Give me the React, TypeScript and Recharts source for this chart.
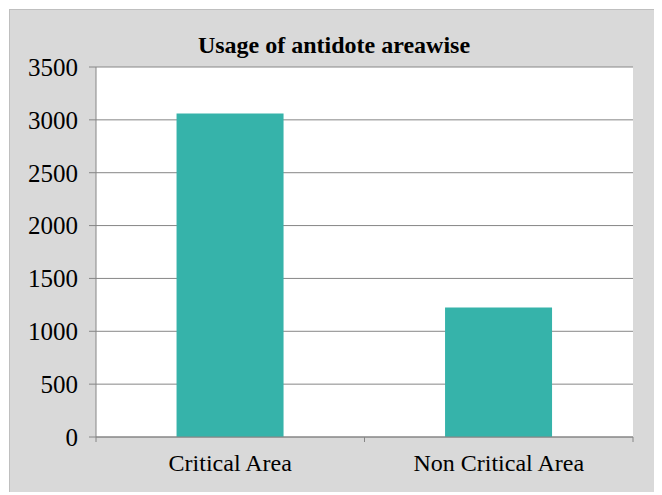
import { BarChart, Bar, XAxis, YAxis, CartesianGrid } from 'recharts';

const areas = ['Critical Area', 'Non Critical Area'];
const usage = [3060, 1225];
const yTicks = [0, 500, 1000, 1500, 2000, 2500, 3000, 3500];

const data = areas.map((area, i) => ({ area, usage: usage[i] }));

const serif = 'Liberation Serif';
const axisGray = '#868686';
const X_TICK_SIZE = 5;
const X_TICK_MARGIN = 12;

// category label plus tick marks on the category boundaries (Excel style)
function AreaTick(props: any) {
  const { x, y, payload, index, visibleTicksCount } = props;
  const half = payload?.offset ?? 134;
  const axisY = y - X_TICK_SIZE - X_TICK_MARGIN;
  const last = index === visibleTicksCount - 1;
  return (
    <g>
      <line x1={x - half} y1={axisY} x2={x - half} y2={axisY + X_TICK_SIZE} stroke={axisGray} />
      {last && <line x1={x + half} y1={axisY} x2={x + half} y2={axisY + X_TICK_SIZE} stroke={axisGray} />}
      <text x={x} y={y} dy="0.71em" textAnchor="middle" fill="#000" fontSize={24} fontFamily={serif}>
        {payload.value}
      </text>
    </g>
  );
}

export default function App() {
  return (
    <div style={{ position: 'relative', left: 1, top: 1, fontFamily: serif }}>
      <div
        style={{
          position: 'relative',
          width: 650,
          height: 484,
          boxSizing: 'border-box',
          background: '#d9d9d9',
          border: '1px solid #bfbfbf',
        }}
      >
        <div
          style={{
            position: 'absolute',
            top: 23,
            left: 0,
            width: '100%',
            textAlign: 'center',
            fontFamily: serif,
            fontWeight: 'bold',
            fontSize: 24,
            lineHeight: '24px',
            color: '#000',
          }}
        >
          Usage of antidote areawise
        </div>
        <BarChart
          width={648}
          height={482}
          data={data}
          margin={{ top: 57, right: 25, left: 0, bottom: 0 }}
          barCategoryGap="30%"
        >
          <CartesianGrid vertical={false} stroke={axisGray} fill="#ffffff" />
          <XAxis
            dataKey="area"
            height={55}
            axisLine={{ stroke: axisGray }}
            tickLine={false}
            tickSize={X_TICK_SIZE}
            tickMargin={X_TICK_MARGIN}
            tick={<AreaTick />}
            interval={0}
          />
          <YAxis
            width={86}
            domain={[0, 3500]}
            ticks={yTicks}
            interval={0}
            axisLine={{ stroke: axisGray }}
            tickLine={{ stroke: axisGray }}
            tickSize={7}
            tickMargin={11}
            tick={{ fill: '#000', fontSize: 25, fontFamily: serif }}
          />
          <Bar dataKey="usage" fill="#36b3aa" isAnimationActive={false} />
        </BarChart>
      </div>
    </div>
  );
}
